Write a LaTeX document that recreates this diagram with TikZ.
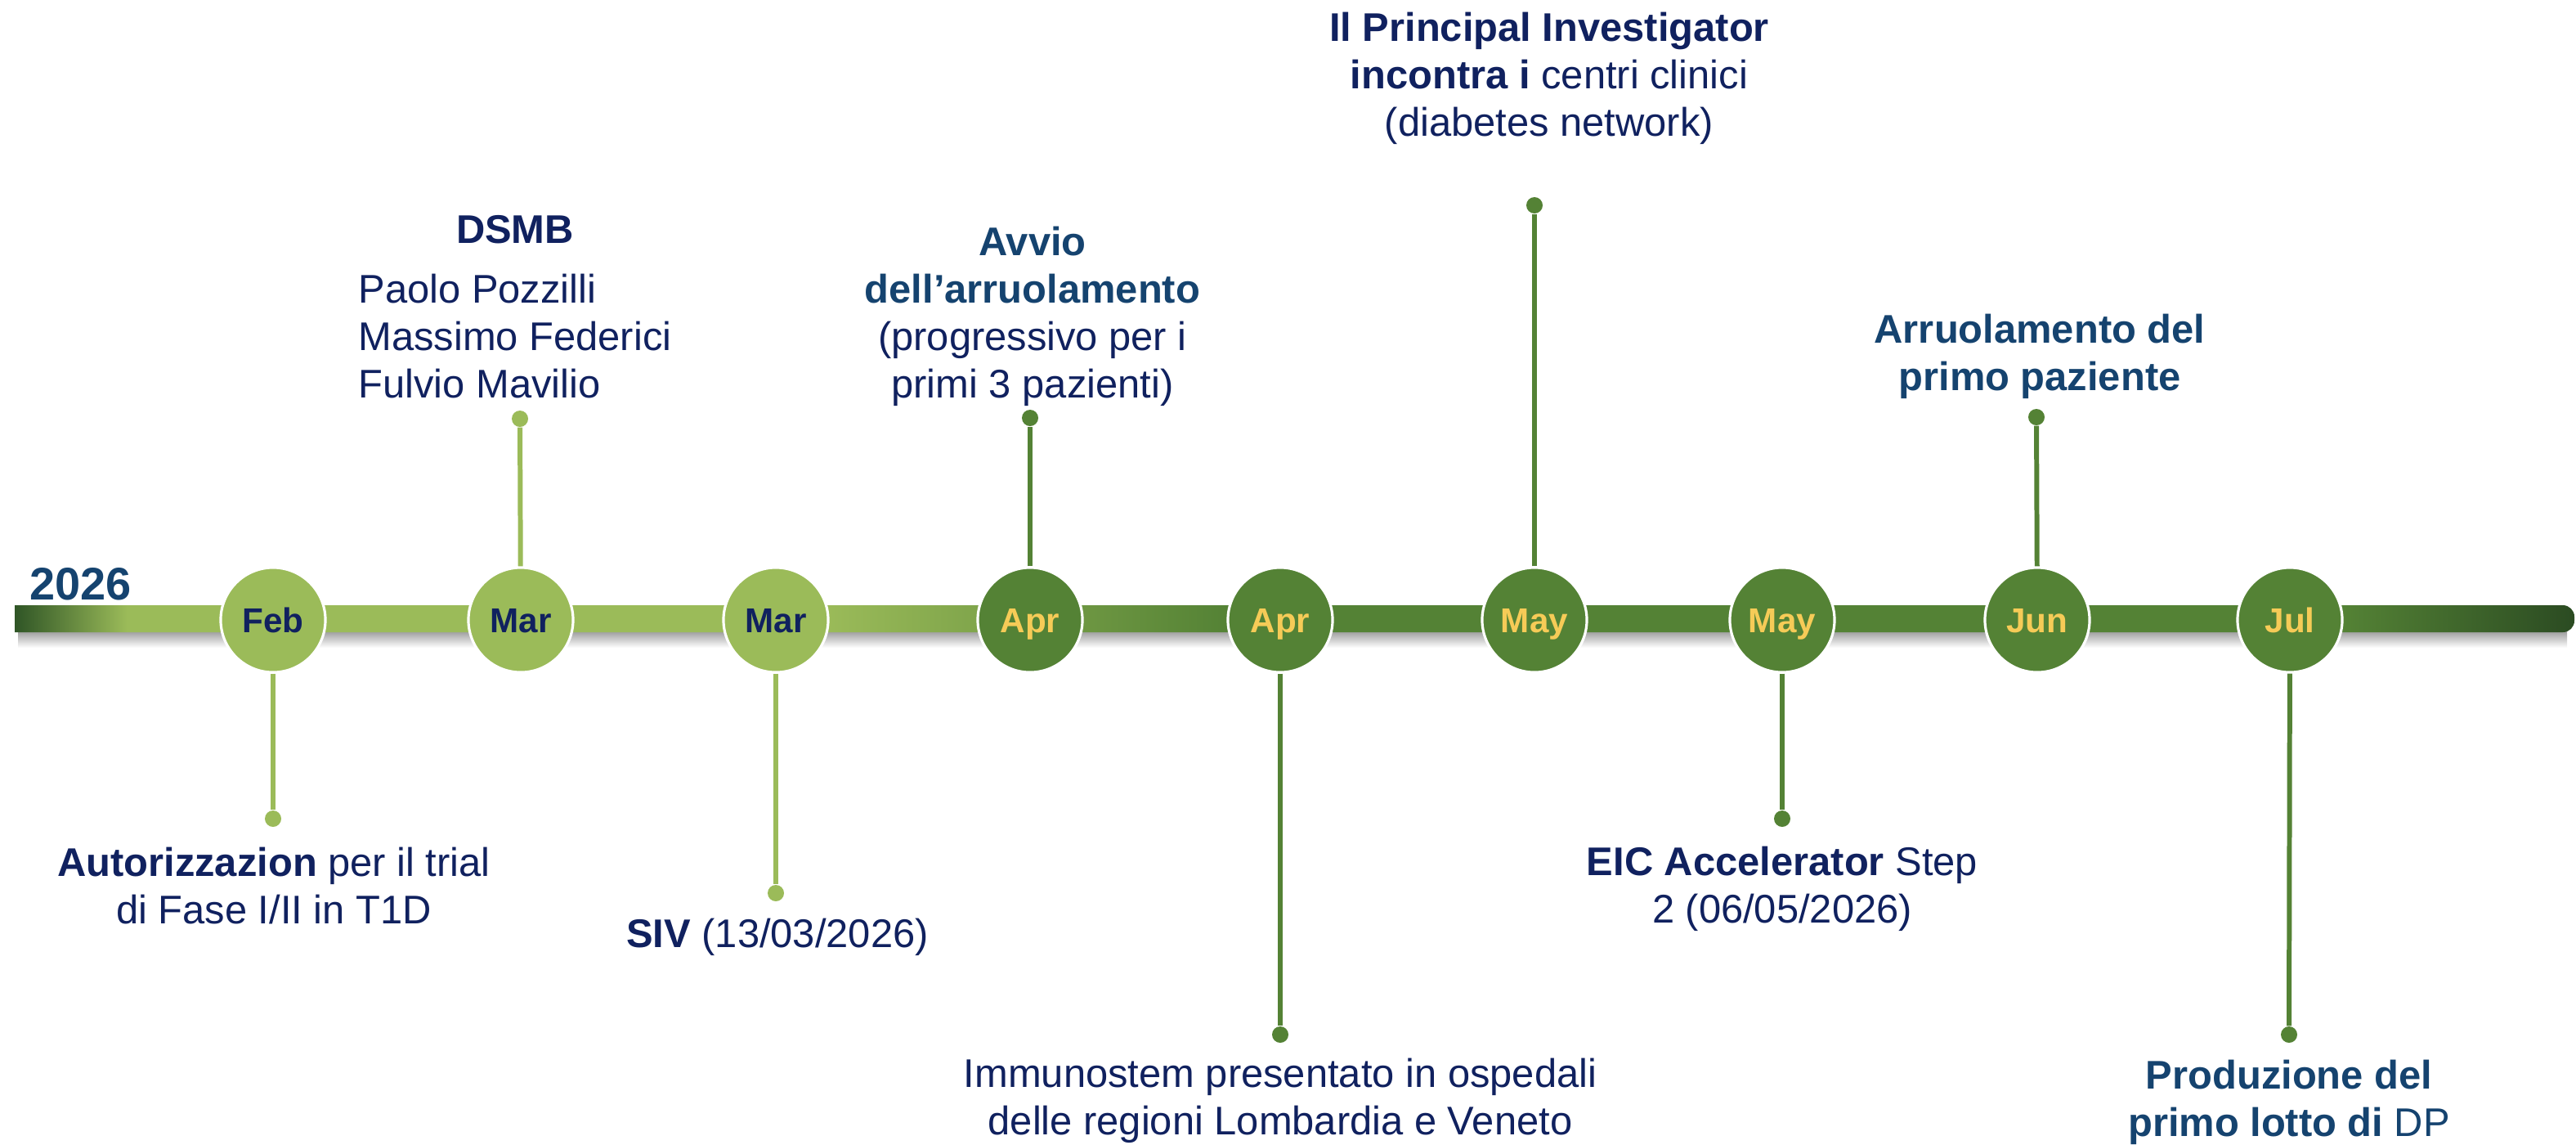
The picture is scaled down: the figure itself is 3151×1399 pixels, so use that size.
\documentclass[tikz,border=0pt]{standalone}
\usepackage{fontspec}
\setmainfont{Liberation Sans}
\usetikzlibrary{positioning}
\definecolor{tlLight}{HTML}{9BBB59}
\definecolor{tlMid}{HTML}{548235}
\definecolor{tlDarkL}{HTML}{2F5526}
\definecolor{tlDarkR}{HTML}{2B4B22}
\definecolor{tlNavy}{HTML}{10215F}
\definecolor{tlBlue}{HTML}{15436F}
\definecolor{tlGold}{HTML}{F6CB57}
\pgfdeclarehorizontalshading{tlbar}{100bp}{color(0bp)=(tlDarkL); color(25bp)=(tlDarkL);
  color(27.2bp)=(tlLight); color(40.8bp)=(tlLight); color(48.7bp)=(tlMid);
  color(70.5bp)=(tlMid); color(75bp)=(tlDarkR); color(100bp)=(tlDarkR)}
\tikzset{
  tl month/.style={
    circle, draw=white, line width=0.9pt, minimum size=1.28cm, inner sep=0pt,
    font=\fontsize{12}{14}\selectfont\bfseries, text height=8.6pt, text depth=0pt
  },
  tl light/.style={
    tl month, fill=tlLight, text=tlNavy
  },
  tl dark/.style={
    tl month, fill=tlMid, text=tlGold
  },
  tl dot/.style={
    circle, inner sep=0pt, minimum size=0.2cm
  },
  tl stem/.style={
    line width=1.7pt
  },
  tl note/.style={
    font=\fontsize{13.9}{16.5}\selectfont, text=tlNavy,
    align=center, inner sep=0pt
  }
}
\begin{document}
\begin{tikzpicture}[x=0.01cm, y=-0.01cm]
  \useasboundingbox (0,0) rectangle (3151,1399);

  % bar with its shadow
  \shade[top color=black!40, bottom color=white] (22,771) rectangle (3140,792);
  \shade[shading=tlbar] (18,740) [rounded corners=4pt] -- (3149,740) -- (3149,773)
    [sharp corners] -- (18,773) -- cycle;
  \node (yr) [font=\fontsize{15.9}{18}\selectfont\bfseries, text=tlBlue,
    anchor=base west, inner sep=0pt] at (36,733) {2026};

  % months
  \node (m1) [tl light] at (334,758) {Feb};
  \node (m2) [tl light] at (637,758) {Mar};
  \node (m3) [tl light] at (949,758) {Mar};
  \node (m4) [tl dark] at (1260,758) {Apr};
  \node (m5) [tl dark] at (1566,758) {Apr};
  \node (m6) [tl dark] at (1877,758) {May};
  \node (m7) [tl dark] at (2180,758) {May};
  \node (m8) [tl dark] at (2492,758) {Jun};
  \node (m9) [tl dark] at (2801,758) {Jul};

  \node (d1) [tl dot, fill=tlLight] at (334,1001) {};
  \node (d2) [tl dot, fill=tlLight] at (636,512) {};
  \node (d3) [tl dot, fill=tlLight] at (949,1092) {};
  \node (d4) [tl dot, fill=tlMid] at (1260,511) {};
  \node (d5) [tl dot, fill=tlMid] at (1566,1265) {};
  \node (d6) [tl dot, fill=tlMid] at (1877,251) {};
  \node (d7) [tl dot, fill=tlMid] at (2180,1001) {};
  \node (d8) [tl dot, fill=tlMid] at (2491,510) {};
  \node (d9) [tl dot, fill=tlMid] at (2800,1265) {};

  \draw [tl stem, tlLight] (m1) -- (d1);
  \draw [tl stem, tlLight] (m2) -- (d2);
  \draw [tl stem, tlLight] (m3) -- (d3);
  \draw [tl stem, tlMid] (m4) -- (d4);
  \draw [tl stem, tlMid] (m5) -- (d5);
  \draw [tl stem, tlMid] (m6) -- (d6);
  \draw [tl stem, tlMid] (m7) -- (d7);
  \draw [tl stem, tlMid] (m8) -- (d8);
  \draw [tl stem, tlMid] (m9) -- (d9);

  % milestones
  \node (t1) [tl note, anchor=north] at (335,1035)
    {\textbf{Autorizzazion} per il trial\\di Fase I/II in T1D};
  \node (t2) [tl note, anchor=south] at (630,505)
    {\textbf{DSMB}\\[4.3pt]\begin{tabular}[t]{@{}l@{}}Paolo Pozzilli\\Massimo Federici\\Fulvio Mavilio\end{tabular}};
  \node (t3) [tl note, anchor=north] at (951,1122) {\textbf{SIV} (13/03/2026)};
  \node (t4) [tl note, anchor=south] at (1263,497)
    {\textcolor{tlBlue}{\textbf{Avvio}}\\\textcolor{tlBlue}{\textbf{dell’arruolamento}}\\(progressivo per i\\primi 3 pazienti)};
  \node (t5) [tl note, anchor=north] at (1566,1293)
    {Immunostem presentato in ospedali\\delle regioni Lombardia e Veneto};
  \node (t6) [tl note, anchor=south] at (1895,177)
    {\textbf{Il Principal Investigator}\\\textbf{incontra i} centri clinici\\(diabetes network)};
  \node (t7) [tl note, anchor=north] at (2180,1034)
    {\textbf{EIC Accelerator} Step\\2 (06/05/2026)};
  \node (t8) [tl note, anchor=south, text=tlBlue, font=\fontsize{13.9}{16.5}\selectfont\bfseries] at (2495,488)
    {Arruolamento del\\primo paziente};
  \node (t9) [tl note, anchor=north, text=tlBlue] at (2800,1295)
    {\textbf{Produzione del}\\\textbf{primo lotto di} DP};
\end{tikzpicture}
\end{document}
